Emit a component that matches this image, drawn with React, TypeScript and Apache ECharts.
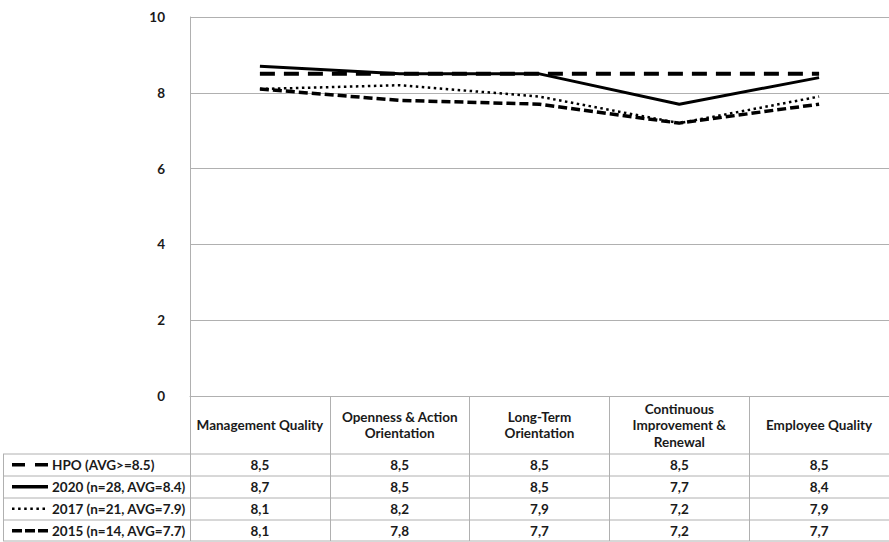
import React, { useEffect, useRef } from "react";
import * as echarts from "echarts";

const categories = [
  "Management Quality",
  "Openness & Action Orientation",
  "Long-Term Orientation",
  "Continuous Improvement & Renewal",
  "Employee Quality",
];
const headerLabels = [
  "Management Quality",
  "Openness & Action\nOrientation",
  "Long-Term\nOrientation",
  "Continuous\nImprovement &\nRenewal",
  "Employee Quality",
];
const seriesNames = [
  "HPO (AVG>=8.5)",
  "2020 (n=28, AVG=8.4)",
  "2017 (n=21, AVG=7.9)",
  "2015 (n=14, AVG=7.7)",
];
const hpo = [8.5, 8.5, 8.5, 8.5, 8.5];
const y2020 = [8.7, 8.5, 8.5, 7.7, 8.4];
const y2017 = [8.1, 8.2, 7.9, 7.2, 7.9];
const y2015 = [8.1, 7.8, 7.7, 7.2, 7.7];
const yTicks = { min: 0, max: 10, interval: 2 };

const FONT = "Lato, 'Open Sans', sans-serif";
const FS = 13.5;
const GRID = "#b0b0b0";
const W = 889;
const H = 542;
const GRID_LEFT = 190;
const GRID_TOP = 17;
const GRID_BOTTOM = 146;

const styles = [
  { width: 4, type: [15, 9] as any, cap: "butt" },
  { width: 3, type: "solid" as any, cap: "butt" },
  { width: 2.5, type: [2.5, 3.5] as any, cap: "butt" },
  { width: 3.5, type: [9, 4] as any, cap: "butt" },
];

export default function App() {
  const ref = useRef<HTMLDivElement>(null);
  useEffect(() => {
    if (!ref.current) return;
    const chart = echarts.init(ref.current, undefined, { renderer: "svg" });
    const allData = [hpo, y2020, y2017, y2015];
    chart.setOption({
      animation: false,
      grid: { left: GRID_LEFT, right: 0, top: GRID_TOP, bottom: GRID_BOTTOM, containLabel: false },
      xAxis: {
        type: "category",
        data: categories,
        boundaryGap: true,
        axisLine: { show: true, lineStyle: { color: GRID, width: 1 } },
        axisTick: { show: true, length: GRID_BOTTOM - 1, lineStyle: { color: GRID, width: 1 } },
        axisLabel: {
          interval: 0,
          margin: 29,
          verticalAlign: "middle",
          align: "center",
          lineHeight: 16.5,
          fontFamily: FONT,
          fontWeight: "bold",
          fontSize: FS,
          color: "#1a1a1a",
          formatter: (_v: string, i: number) => headerLabels[i],
        },
        splitLine: { show: false },
      },
      yAxis: {
        type: "value",
        min: yTicks.min,
        max: yTicks.max,
        interval: yTicks.interval,
        axisLine: { show: true, lineStyle: { color: GRID, width: 1 } },
        axisTick: { show: false },
        axisLabel: {
          margin: 25,
          fontFamily: FONT,
          fontWeight: "bold",
          fontSize: FS,
          color: "#1a1a1a",
        },
        splitLine: { show: true, lineStyle: { color: GRID, width: 1 } },
      },
      series: [3, 2, 1, 0].map((k) => ({
        name: seriesNames[k],
        type: "line",
        data: allData[k],
        symbol: "none",
        z: 2 + (3 - k),
        lineStyle: { color: "#000", width: styles[k].width, type: styles[k].type, cap: styles[k].cap },
      })),
    });

    const rowTops = [454, 476, 498, 520];
    const rowH = 21.5;
    const bottom = 541;
    const els: any[] = [];
    [...rowTops, bottom].forEach((y) => {
      els.push({
        type: "line",
        shape: { x1: 3, y1: y, x2: W, y2: y },
        style: { stroke: GRID, lineWidth: 1 },
        silent: true,
      });
    });
    els.push({
      type: "line",
      shape: { x1: 3.5, y1: rowTops[0], x2: 3.5, y2: bottom },
      style: { stroke: GRID, lineWidth: 1 },
    });
    rowTops.forEach((top, k) => {
      const cy = top + rowH / 2;
      els.push({
        type: "line",
        shape: { x1: 12, y1: cy, x2: 48, y2: cy },
        style: {
          stroke: "#000",
          lineWidth: k === 2 ? 2.5 : 3.5,
          lineDash:
            k === 0 ? [13, 10] : k === 1 ? null : k === 2 ? [2.5, 3.6] : [10, 3],
        },
      });
      els.push({
        type: "text",
        x: 52,
        y: cy,
        style: {
          text: seriesNames[k],
          fontFamily: FONT,
          fontWeight: "bold",
          fontSize: FS,
          fill: "#1a1a1a",
          verticalAlign: "middle",
          align: "left",
        },
      });
      allData[k].forEach((v, i) => {
        const x = chart.convertToPixel({ xAxisIndex: 0 }, i) as number;
        els.push({
          type: "text",
          x,
          y: cy,
          style: {
            text: v.toFixed(1).replace(".", ","),
            fontFamily: FONT,
            fontWeight: "bold",
            fontSize: FS,
            fill: "#1a1a1a",
            verticalAlign: "middle",
            align: "center",
          },
        });
      });
    });
    chart.setOption({ graphic: { elements: els } });
    return () => chart.dispose();
  }, []);
  return (
    <div
      ref={ref}
      style={{ position: "fixed", left: 0, top: 0, width: W, height: H, background: "#fff" }}
    />
  );
}
